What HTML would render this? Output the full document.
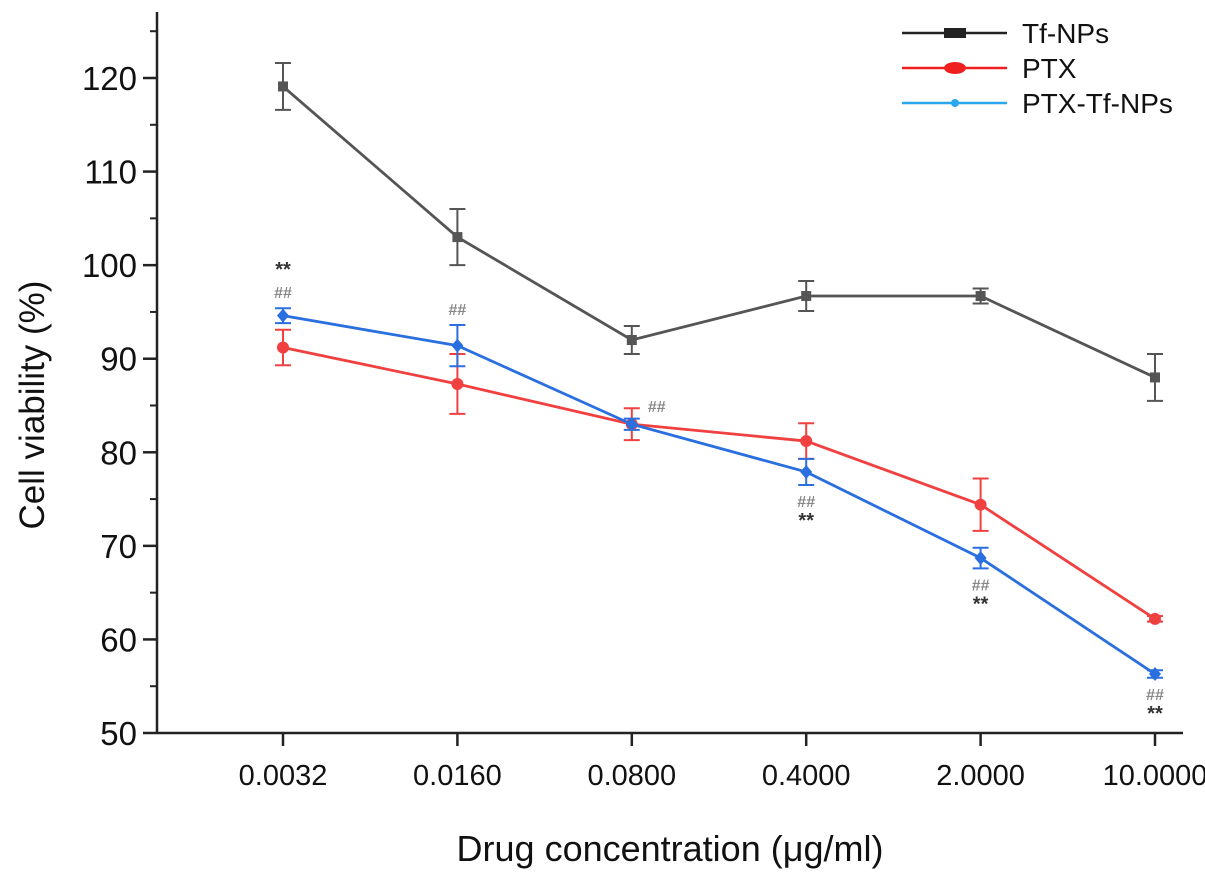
<!DOCTYPE html>
<html><head><meta charset="utf-8"><style>
body{margin:0;background:#fff}
svg{display:block;font-family:"Liberation Sans",Arial,sans-serif}
</style></head><body>
<svg id="chart" width="1205" height="883" viewBox="0 0 1205 883" xmlns="http://www.w3.org/2000/svg">
<g id="axes"></g>
<g id="series"></g>
<g id="legend"></g>
<text transform="translate(44,405) rotate(-90)" text-anchor="middle" font-size="35" fill="#111">Cell viability (%)</text>
<text x="670" y="861" text-anchor="middle" font-size="36" fill="#111">Drug concentration (μg/ml)</text>
</svg>
<script>
const categories = ["0.0032","0.0160","0.0800","0.4000","2.0000","10.0000"];
const yTicks = [50,60,70,80,90,100,110,120];
const tfValues = [119.1,103,92,96.7,96.7,88];
const tfErrors = [2.5,3,1.5,1.6,0.8,2.5];
const ptxValues = [91.2,87.3,83,81.2,74.4,62.2];
const ptxErrors = [1.9,3.2,1.7,1.9,2.8,0.3];
const comboValues = [94.6,91.4,83,77.9,68.7,56.3];
const comboErrors = [0.8,2.2,0.6,1.4,1.1,0.4];
const annotations = [["**##","above",0],["##","above",1],["##","right",2],["##**","below",3],["##**","below",4],["##**","below",5]];

const NS="http://www.w3.org/2000/svg";
function mk(t,a,p){const e=document.createElementNS(NS,t);for(const k in a)e.setAttribute(k,a[k]);p.appendChild(e);return e;}
const X0=157,X1=1183,Y0=733,Ytop=12;
function xs(i){return 283+i*174.4;}
function ys(v){return 733-(v-50)*9.357;}
const axes=document.getElementById('axes');
let e=mk('line',{x1:X0,y1:Ytop,x2:X0,y2:Y0,stroke:'#222','stroke-width':2.5},axes);

e=mk('line',{x1:X0,y1:Y0,x2:X1,y2:Y0,stroke:'#222','stroke-width':2.5},axes);

for(let v=55;v<=125;v+=10){e=mk('line',{x1:X0-7,y1:ys(v),x2:X0,y2:ys(v),stroke:'#222','stroke-width':2},axes);
}
yTicks.forEach(v=>{
e=mk('line',{x1:X0-14,y1:ys(v),x2:X0,y2:ys(v),stroke:'#222','stroke-width':2.5},axes);

e=mk('text',{x:X0-20,y:ys(v)+12,'text-anchor':'end','font-size':33,fill:'#111'},axes);e.textContent=v;
});
categories.forEach((c,i)=>{
e=mk('line',{x1:xs(i),y1:Y0,x2:xs(i),y2:Y0+13,stroke:'#222','stroke-width':2.5},axes);

e=mk('text',{x:xs(i),y:785,'text-anchor':'middle','font-size':29,fill:'#111'},axes);e.textContent=c;
});
const series=document.getElementById('series');
function draw(vals,errs,color,marker,name){
const g=mk('g',{},series);

e=mk('polyline',{points:vals.map((v,i)=>xs(i)+','+ys(v)).join(' '),fill:'none',stroke:color,'stroke-width':2.8},g);

vals.forEach((v,i)=>{const x=xs(i),a=ys(v+errs[i]),b=ys(v-errs[i]);
e=mk('path',{d:`M${x},${a}V${b}M${x-8},${a}H${x+8}M${x-8},${b}H${x+8}`,stroke:color,'stroke-width':2,fill:'none'},g);

if(marker==='sq')e=mk('rect',{x:x-5,y:ys(v)-5,width:10,height:10,fill:color},g);
else if(marker==='c')e=mk('circle',{cx:x,cy:ys(v),r:6,fill:color},g);
else e=mk('path',{d:`M${x},${ys(v)-7}L${x+6},${ys(v)}L${x},${ys(v)+7}L${x-6},${ys(v)}Z`,fill:color},g);
});}
draw(tfValues,tfErrors,'#555','sq','tf-nps');
draw(ptxValues,ptxErrors,'#f04040','c','ptx');
draw(comboValues,comboErrors,'#2a6fe0','d','ptx-tf-nps');
annotations.forEach(a=>{const i=a[2],v=comboValues[i],x=xs(i);
const parts=[];for(let k=0;k<a[0].length;k+=2)parts.push(a[0].substr(k,2));
parts.forEach((p,k)=>{let tx=x,ty;
if(a[1]==='above')ty=ys(v+comboErrors[i])-10-(parts.length-1-k)*22;
else if(a[1]==='below')ty=ys(v-comboErrors[i])+22+k*20;
else{tx=x+25;ty=ys(v)-12;}
e=mk('text',{x:tx,y:ty,'text-anchor':'middle','font-size':p==='**'?20:16,'font-weight':'bold',fill:p==='**'?'#333':'#888'},series);e.textContent=p;
});});
const legend=document.getElementById('legend');
[['Tf-NPs','#222','sq'],['PTX','#f02020','c'],['PTX-Tf-NPs','#29a8f0','d']].forEach((l,k)=>{
const y=33+k*35;const g=mk('g',{},legend);

mk('line',{x1:902,y1:y,x2:1007,y2:y,stroke:l[1],'stroke-width':2.5},g);
if(l[2]==='sq')mk('rect',{x:944,y:y-5,width:22,height:10,fill:l[1]},g);
else if(l[2]==='c')mk('ellipse',{cx:955,cy:y,rx:11,ry:6,fill:l[1]},g);
else mk('circle',{cx:955,cy:y,r:4,fill:l[1]},g);
const t=mk('text',{x:1022,y:y+10,'font-size':28,fill:'#111'},g);t.textContent=l[0];});
</script>
</body></html>
